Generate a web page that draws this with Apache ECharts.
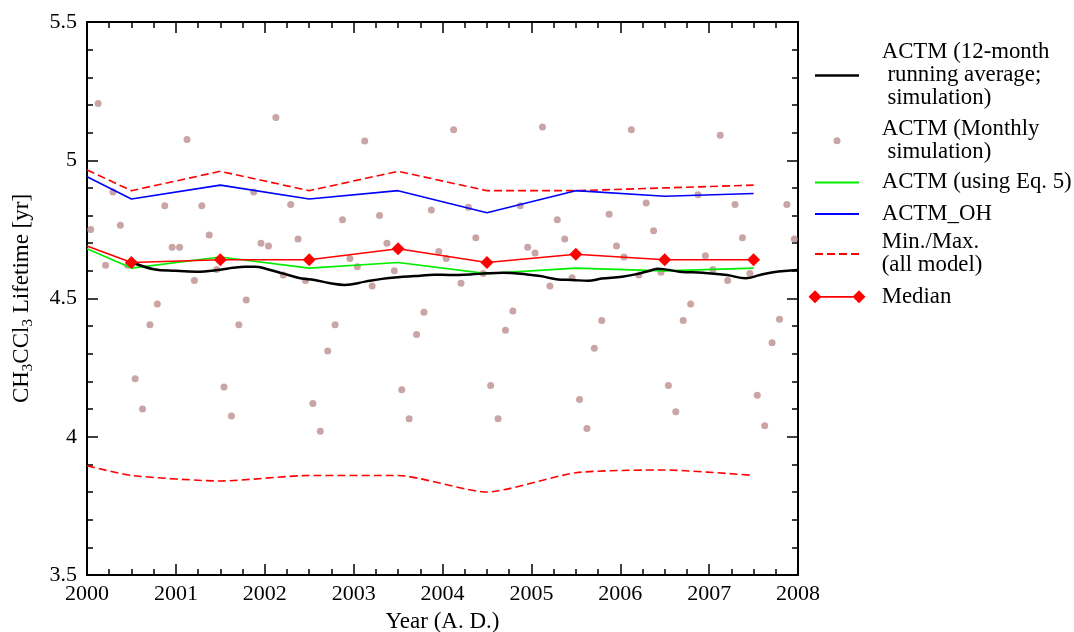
<!DOCTYPE html>
<html>
<head>
<meta charset="utf-8">
<script src="https://cdn.jsdelivr.net/npm/echarts@6/dist/echarts.min.js"></script>
<style>
  html, body { margin: 0; padding: 0; background: #ffffff; }
  #chart { width: 1074px; height: 632px; }
</style>
</head>
<body>
<div id="chart"></div>
<script>
// CH3CCl3 lifetime: ACTM simulations and model ensemble statistics, 2000-2008

// Axis ticks
const yearTicks = [2000, 2001, 2002, 2003, 2004, 2005, 2006, 2007, 2008];
const yearLabels = ['2000', '2001', '2002', '2003', '2004', '2005', '2006', '2007', '2008'];
const lifetimeTicks = [3.5, 4, 4.5, 5, 5.5];
const lifetimeLabels = ['3.5', '4', '4.5', '5', '5.5'];

// Annual values (start of 2000, then mid-year)
const annualYears = [2000.0, 2000.5, 2001.5, 2002.5, 2003.5, 2004.5, 2005.5, 2006.5, 2007.5];
const maxLife    = [4.965, 4.89, 4.96, 4.89, 4.96, 4.89, 4.89, 4.90, 4.91];
const minLife    = [3.895, 3.86, 3.84, 3.86, 3.86, 3.80, 3.87, 3.88, 3.86];
const ohLife     = [4.94, 4.86, 4.91, 4.86, 4.89, 4.81, 4.89, 4.87, 4.88];
const eq5Life    = [4.68, 4.61, 4.65, 4.61, 4.63, 4.59, 4.61, 4.60, 4.61];
const medianLife = [4.69, 4.63, 4.64, 4.64, 4.68, 4.63, 4.66, 4.64, 4.64];

// Monthly ACTM simulation, Jan..Dec of each year
const monthly2000 = [4.75, 5.205, 4.62, 4.885, 4.765, 4.62, 4.21, 4.10, 4.405, 4.48, 4.835, 4.685];
const monthly2001 = [4.685, 5.075, 4.565, 4.835, 4.73, 4.605, 4.18, 4.075, 4.405, 4.495, 4.885, 4.70];
const monthly2002 = [4.69, 5.155, 4.585, 4.84, 4.715, 4.565, 4.12, 4.02, 4.31, 4.405, 4.785, 4.645];
const monthly2003 = [4.615, 5.07, 4.545, 4.80, 4.70, 4.60, 4.17, 4.065, 4.37, 4.45, 4.82, 4.67];
const monthly2004 = [4.645, 5.11, 4.555, 4.83, 4.72, 4.59, 4.185, 4.065, 4.385, 4.455, 4.835, 4.685];
const monthly2005 = [4.665, 5.12, 4.545, 4.785, 4.715, 4.575, 4.135, 4.03, 4.32, 4.42, 4.805, 4.69];
const monthly2006 = [4.65, 5.11, 4.585, 4.845, 4.745, 4.595, 4.185, 4.09, 4.42, 4.48, 4.875, 4.655];
const monthly2007 = [4.605, 5.09, 4.565, 4.84, 4.72, 4.59, 4.15, 4.04, 4.34, 4.425, 4.84, 4.715];
const monthlyYears = [2000, 2001, 2002, 2003, 2004, 2005, 2006, 2007];
const monthlyValues = [monthly2000, monthly2001, monthly2002, monthly2003,
                       monthly2004, monthly2005, monthly2006, monthly2007];

// 12-month running average of the ACTM simulation
const runTime = [2000.5, 2000.75, 2001.0, 2001.23, 2001.5, 2001.64, 2001.78, 2001.89, 2002.02,
                 2002.2, 2002.4, 2002.56, 2002.74, 2002.9, 2003.13, 2003.32, 2003.5, 2003.69,
                 2003.91, 2004.08, 2004.31, 2004.5, 2004.68, 2004.95, 2005.1, 2005.3, 2005.46,
                 2005.64, 2005.79, 2006.02, 2006.2, 2006.36, 2006.42, 2006.67, 2006.93, 2007.2,
                 2007.41, 2007.57, 2007.72, 2008.0];
const runLife = [4.632, 4.606, 4.600, 4.597, 4.604, 4.611, 4.615, 4.615, 4.607,
                 4.591, 4.573, 4.567, 4.555, 4.549, 4.561, 4.571, 4.577, 4.581,
                 4.586, 4.585, 4.587, 4.591, 4.593, 4.587, 4.581, 4.569, 4.567,
                 4.564, 4.572, 4.579, 4.589, 4.603, 4.608, 4.597, 4.593, 4.585,
                 4.573, 4.585, 4.595, 4.603];

const NAME_RUN = 'ACTM (12-month\n running average;\n simulation)';
const NAME_MONTHLY = 'ACTM (Monthly\n simulation)';
const NAME_EQ5 = 'ACTM (using Eq. 5)';
const NAME_OH = 'ACTM_OH';
const NAME_MINMAX = 'Min./Max.\n(all model)';
const NAME_MEDIAN = 'Median';

const FONT = '"Liberation Serif", "DejaVu Serif", "Times New Roman", serif';
const RED = '#ff0000';
const DOT = '#bc8f8f';

const pairs = (xs, ys) => xs.map((x, i) => [x, ys[i]]);

const monthlyPoints = [];
monthlyYears.forEach((yr, k) => {
  monthlyValues[k].forEach((v, m) => monthlyPoints.push([yr + (m + 0.5) / 12, v]));
});

const medianPoints = pairs(annualYears, medianLife).map((p, i) =>
  i === 0 ? { value: p, symbol: 'none' } : p);

function makeXAxis(position, showLabels) {
  return {
    type: 'value', position, min: 2000, max: 2008, interval: 1,
    axisLine: { onZero: false, lineStyle: { color: '#000', width: 2 } },
    axisTick: { show: true, inside: true, length: 11, lineStyle: { color: '#000', width: 1.5 } },
    minorTick: { show: true, splitNumber: 4, length: 6, lineStyle: { color: '#000', width: 1.5 } },
    splitLine: { show: false },
    minorSplitLine: { show: false },
    axisLabel: {
      show: showLabels, color: '#000', fontFamily: FONT, fontSize: 22, margin: 8,
      formatter: v => yearLabels[yearTicks.indexOf(v)]
    }
  };
}

function makeYAxis(position, showLabels) {
  return {
    type: 'value', position, min: 3.5, max: 5.5, interval: 0.5,
    axisLine: { onZero: false, lineStyle: { color: '#000', width: 2 } },
    axisTick: { show: true, inside: true, length: 11, lineStyle: { color: '#000', width: 1.5 } },
    minorTick: { show: true, splitNumber: 5, length: 6, lineStyle: { color: '#000', width: 1.5 } },
    splitLine: { show: false },
    minorSplitLine: { show: false },
    axisLabel: {
      show: showLabels, color: '#000', fontFamily: FONT, fontSize: 22, margin: 10,
      formatter: v => {
        const i = lifetimeTicks.findIndex(t => Math.abs(t - v) < 1e-9);
        return i >= 0 ? lifetimeLabels[i] : '';
      }
    }
  };
}

const xBottom = makeXAxis('bottom', true);
xBottom.name = 'Year (A. D.)';
xBottom.nameLocation = 'middle';
xBottom.nameGap = 35;
xBottom.nameTextStyle = { color: '#000', fontFamily: FONT, fontSize: 23 };

const yLeft = makeYAxis('left', true);
yLeft.name = '{a|CH}{s|3}{a|CCl}{s|3}{a| Lifetime [yr]}';
yLeft.nameLocation = 'middle';
yLeft.nameRotate = 90;
yLeft.nameGap = 51;
yLeft.nameTextStyle = {
  color: '#000', fontFamily: FONT, fontSize: 23,
  rich: {
    a: { fontFamily: FONT, fontSize: 23, lineHeight: 28, verticalAlign: 'middle', color: '#000' },
    s: { fontFamily: FONT, fontSize: 15, lineHeight: 14, verticalAlign: 'bottom', color: '#000' }
  }
};

// One legend block per entry so each entry can sit at its own height
function legendEntry(name, icon, top, left, itemWidth, itemHeight, padLeft) {
  return {
    show: true, orient: 'vertical', left, top, padding: 0,
    itemWidth, itemHeight, selectedMode: false,
    itemStyle: { borderWidth: 0 },
    data: [{ name, icon }],
    textStyle: {
      color: '#000', fontFamily: FONT, fontSize: 22.8, lineHeight: 23,
      padding: [0, 0, 0, padLeft]
    }
  };
}

const legends = [
  legendEntry(NAME_RUN, 'path://M0,0H44V2.6H0Z', 41, 815, 44, 14, 17.7),
  legendEntry(NAME_MONTHLY, 'circle', 117.8, 833.5, 44, 7, 17.7),
  legendEntry(NAME_EQ5, 'path://M0,0H44V1.8H0Z', 171, 815, 44, 14, 17.7),
  legendEntry(NAME_OH, 'path://M0,0H44V1.8H0Z', 202.5, 815, 44, 14, 17.7),
  legendEntry(NAME_MINMAX,
    'path://M0,0H8V1.8H0Z M12,0H20V1.8H12Z M24,0H32V1.8H24Z M36,0H44V1.8H36Z',
    231, 815, 44, 14, 17.7),
  legendEntry(NAME_MEDIAN,
    'path://M0,6.5L6.5,0L13,6.5L6.5,13Z M6.5,5.6H50.5V7.4H6.5Z M44,6.5L50.5,0L57,6.5L50.5,13Z',
    285.3, 808.5, 57, 13, 11.2)
];

const option = {
  animation: false,
  backgroundColor: '#ffffff',
  textStyle: { fontFamily: FONT },
  grid: { left: 87, right: 276, top: 22, bottom: 57, containLabel: false, outerBoundsMode: 'none' },
  xAxis: [xBottom, makeXAxis('top', false)],
  yAxis: [yLeft, makeYAxis('right', false)],
  legend: legends,
  series: [
    {
      name: NAME_MONTHLY, type: 'scatter', data: monthlyPoints,
      symbol: 'circle', symbolSize: 7, color: DOT,
      itemStyle: { color: DOT }, z: 2
    },
    {
      name: NAME_MINMAX, type: 'line', data: pairs(annualYears, maxLife),
      symbol: 'none', color: RED,
      lineStyle: { color: RED, width: 1.6, type: [8, 4] }, z: 3
    },
    {
      name: NAME_MINMAX, type: 'line', data: pairs(annualYears, minLife),
      symbol: 'none', color: RED, smooth: 0.2,
      lineStyle: { color: RED, width: 1.6, type: [8, 4] }, z: 3
    },
    {
      name: NAME_OH, type: 'line', data: pairs(annualYears, ohLife),
      symbol: 'none', color: '#0000ff',
      lineStyle: { color: '#0000ff', width: 1.6 }, z: 3
    },
    {
      name: NAME_EQ5, type: 'line', data: pairs(annualYears, eq5Life),
      symbol: 'none', color: '#00ee00',
      lineStyle: { color: '#00ee00', width: 1.6 }, z: 4
    },
    {
      name: NAME_RUN, type: 'line', data: pairs(runTime, runLife),
      symbol: 'none', color: '#000000', smooth: 0.4,
      lineStyle: { color: '#000000', width: 2.5 }, z: 5
    },
    {
      name: NAME_MEDIAN, type: 'line', data: medianPoints,
      symbol: 'diamond', symbolSize: 13, showSymbol: true, color: RED,
      itemStyle: { color: RED, borderWidth: 0 },
      lineStyle: { color: RED, width: 1.6 }, z: 6
    }
  ]
};

const chart = echarts.init(document.getElementById('chart'), null, { renderer: 'canvas' });
chart.setOption(option);
</script>
</body>
</html>
